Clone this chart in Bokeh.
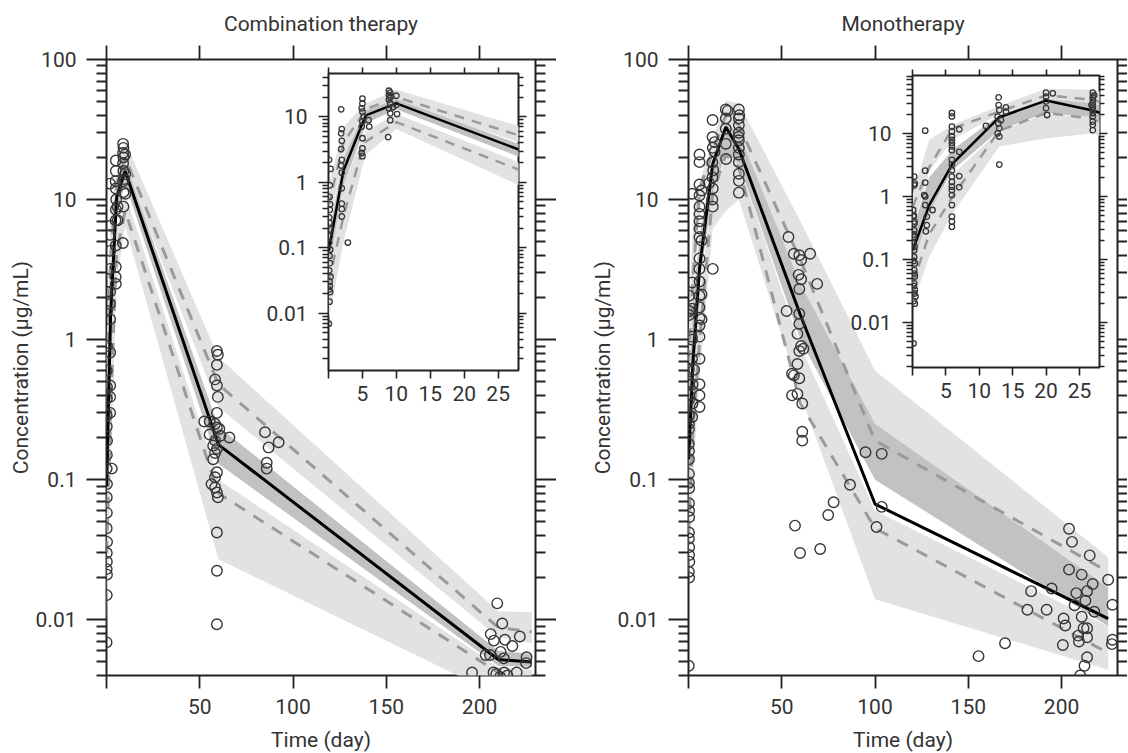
from bokeh.plotting import figure
from bokeh.models import (Range1d, LinearAxis, LogAxis, FixedTicker,
                          CustomJSTickFormatter, GridBox)
from bokeh.embed import file_html
from bokeh.resources import INLINE

# ---------------- texts / ticks ----------------
panel_titles = ["Combination therapy", "Monotherapy"]
x_label = "Time (day)"
y_label = "Concentration (µg/mL)"
main_x_ticks = [0, 50, 100, 150, 200]
inset_x_ticks = [0, 5, 10, 15, 20, 25]
main_y_ticks = [0.01, 0.1, 1, 10, 100]
inset_y_ticks = [0.01, 0.1, 1, 10]

# ---------------- Combination therapy: VPC bins ----------------
comb_day = [0.04, 2.2, 4.9, 5.5, 10, 60, 210, 228]
comb_obs_p50 = [0.09, 1.5, 7.5, 10.5, 16, 0.178, 0.0052, 0.005]
comb_obs_p95 = [0.45, 4.0, 10.5, 13.0, 20, 0.48, 0.0088, 0.0082]
comb_obs_p05 = [0.03, 0.3, 3.0, 4.2, 8.3, 0.08, 0.0042, 0.0036]
comb_p95_lo = [0.2, 2.5, 8, 10, 17, 0.33, 0.0075, 0.0068]
comb_p95_hi = [0.9, 7, 14, 16, 26, 0.75, 0.0115, 0.0113]
comb_p50_lo = [0.05, 0.9, 5, 8, 13, 0.13, 0.0047, 0.0046]
comb_p50_hi = [0.16, 2.4, 9, 12.5, 18.5, 0.24, 0.006, 0.0057]
comb_p05_lo = [0.008, 0.12, 1.6, 2.6, 6.5, 0.027, 0.0029, 0.0026]
comb_p05_hi = [0.06, 0.9, 4.5, 6, 11, 0.1, 0.0046, 0.0044]

comb_obs_day = [
    0.10, 0.30, 0.20, 0.15, 0.25, 0.20, 0.10, 0.15, 0.30, 0.20, 0.10, 0.25, 0.15, 0.20, 0.10, 0.30, 0.15, 0.20, 0.10, 0.25, 0.15, 0.05,
    1.87, 1.96, 1.87, 1.96, 1.87, 1.96, 1.87, 1.96, 1.96, 1.96, 1.96, 1.96, 2.85,
    5.0, 5.0, 4.9, 5.0, 5.2, 5.0, 4.9, 5.9, 6.0, 5.0, 5.0, 4.9, 5.0,
    8.9, 9.1, 8.9, 9.1, 8.9, 9.1, 8.9, 9.1, 9.1, 10.0, 10.1, 8.8, 10.0, 9.5,
    59.2, 59.7, 59.2, 58.2, 59.2, 59.7, 59.2, 52.4, 55.3, 58.2, 59.2, 60.5, 55.3, 61.1, 65.9, 58.2, 57.2, 59.2, 58.2, 57.2,
    59.2, 58.2, 56.3, 58.2, 59.2, 59.7, 59.2, 59.2, 59.2,
    85.0, 86.9, 92.3, 85.9, 85.9,
    209.5, 212.2, 206.0, 207.7, 213.6, 221.6, 217.6, 203.3, 205.6, 211.3, 225.2, 225.0, 213.0, 196.0, 207.5, 209.0, 213.2,
    219.9, 215.0, 211.0]
comb_obs_conc = [
    2.2, 1.6, 0.9, 0.6, 0.46, 0.38, 0.29, 0.24, 0.19, 0.15, 0.12, 0.093, 0.075, 0.058, 0.045, 0.036, 0.030, 0.026, 0.023, 0.021, 0.015, 0.0069,
    13, 6.5, 5.6, 4.3, 3.2, 2.2, 1.8, 1.4, 0.81, 0.47, 0.39, 0.30, 0.12,
    19, 16, 13.5, 12, 10, 8.5, 7.1, 8.9, 7.1, 4.7, 3.3, 2.8, 2.5,
    25, 23.4, 21.5, 20, 18.2, 16, 13.5, 11.3, 8.9, 15.2, 11, 4.9, 21, 14,
    0.83, 0.78, 0.66, 0.52, 0.47, 0.39, 0.30, 0.26, 0.26, 0.25, 0.236, 0.23, 0.21, 0.206, 0.20, 0.19, 0.175, 0.166, 0.155, 0.14,
    0.113, 0.104, 0.093, 0.088, 0.081, 0.075, 0.042, 0.0224, 0.0093,
    0.218, 0.17, 0.185, 0.132, 0.12,
    0.0131, 0.0094, 0.0079, 0.0071, 0.0072, 0.0076, 0.0065, 0.0056, 0.0056, 0.0059, 0.0054, 0.0049, 0.0053, 0.0042, 0.0042,
    0.0041, 0.0042, 0.0042, 0.0040, 0.0039]

# ---------------- Monotherapy: VPC bins ----------------
mono_day = [0.04, 2.5, 6, 13, 20, 27, 60, 100, 225]
mono_obs_p50 = [0.14, 0.73, 3.3, 18, 33, 23, 1.5, 0.067, 0.0102]
mono_obs_p95 = [0.69, 2.9, 12, 22, 40, 34, 3.7, 0.19, 0.022]
mono_obs_p05 = [0.042, 0.25, 1.0, 11, 21, 17, 0.35, 0.045, 0.0058]
mono_p95_lo = [0.3, 2.5, 8, 20, 33, 30, 2.5, 0.12, 0.015]
mono_p95_hi = [1.1, 7.9, 13.5, 27, 51, 49, 7, 0.6, 0.028]
mono_p50_lo = [0.08, 0.55, 2.6, 11.2, 21, 18, 1.0, 0.1, 0.009]
mono_p50_hi = [0.3, 2.0, 5.5, 19.5, 35, 30, 2.5, 0.25, 0.017]
mono_p05_lo = [0.02, 0.11, 0.54, 6.2, 8.3, 10, 0.4, 0.014, 0.0044]
mono_p05_hi = [0.08, 0.6, 2.2, 11, 20, 18, 0.9, 0.06, 0.009]

mono_obs_day = [
    0.25, 0.35, 0.25, 0.10, 0.15, 0.25, 0.25, 0.25, 0.15, 0.25, 0.25, 0.35, 0.25, 0.35, 0.25, 0.35, 0.45, 0.35, 0.15,
    0.2, 0.3, 0.2, 0.3, 0.2, 0.3, 0.2, 0.3, 0.2,
    1.9, 1.9, 1.9, 1.75, 1.9, 1.9, 2.15, 2.15, 2.0, 3.0,
    5.9, 5.9, 5.9, 5.9, 5.9, 5.9, 5.9, 5.9, 5.9, 5.9, 5.9, 5.9, 5.9, 5.9, 5.9, 5.9, 5.9, 5.9, 5.9, 5.9, 5.9,
    7.0, 7.0, 7.0, 7.0,
    11, 12.9, 12.9, 13.0, 12.75, 13.25, 12.85, 13.0, 12.75, 13.0, 14.0, 14.0, 13.0,
    20, 21, 20, 20, 20, 20.15,
    27, 27, 27, 27, 27, 27, 27, 27, 27, 27, 27, 27.2, 26.8,
    53.6, 56.5, 59.4, 65.2, 60.4, 59.0, 60.4, 59.4, 69.0, 52.6, 59.4, 59.4, 58.4, 60.4, 59.4, 61.6, 58.4, 55.5, 56.5, 59.4,
    55.5, 58.4, 61.0, 61.0, 61.0, 57.1, 59.8, 70.6,
    74.9, 77.8, 86.6, 94.9, 103.6, 100.8, 103.6,
    155.5, 169.7, 181.7, 183.7, 192, 194.7, 204, 205.6, 204, 210.8, 215.1, 216.7, 207.9, 213.7, 212.8, 207, 217.6, 225,
    227.3, 201.1, 210.8, 211.8, 213.7, 202, 200.7, 208.9, 209.3, 213.7, 227.3, 227, 213.7, 212.3, 210]
mono_obs_conc = [
    2.06, 1.6, 1.5, 0.61, 0.48, 0.37, 0.29, 0.23, 0.18, 0.14, 0.11, 0.087, 0.068, 0.054, 0.042, 0.033, 0.026, 0.020, 0.0047,
    0.5, 0.4, 0.25, 0.16, 0.095, 0.06, 0.038, 0.029, 0.022,
    11, 2.56, 1.66, 1.05, 1.0, 0.73, 0.48, 0.35, 0.28, 0.61,
    21, 18.5, 12.8, 10.7, 8.9, 7.9, 7.0, 6.2, 5.4, 3.8, 3.2, 2.6, 2.06, 1.7, 1.43, 1.26, 1.05, 0.73, 0.48, 0.4, 0.33,
    11.6, 5.1, 2.1, 1.4,
    13.1, 37, 28, 23.4, 18.4, 16.2, 14.4, 12, 10, 8.9, 25.7, 22, 3.2,
    44, 43, 38, 32, 25, 19.5,
    44, 38, 34, 30, 26.5, 23.4, 21, 18.5, 15.3, 13.6, 11.2, 40, 28,
    5.4, 4.1, 4.0, 4.1, 3.7, 2.9, 2.7, 2.3, 2.5, 1.6, 1.53, 1.3, 1.1, 0.9, 0.83, 0.86, 0.67, 0.57, 0.556, 0.53,
    0.40, 0.41, 0.35, 0.22, 0.19, 0.047, 0.030, 0.032,
    0.056, 0.069, 0.092, 0.157, 0.153, 0.046, 0.064,
    0.0055, 0.0068, 0.0118, 0.016, 0.0118, 0.0167, 0.0447, 0.036, 0.0228, 0.021, 0.0288, 0.018, 0.0155, 0.016, 0.0137,
    0.0127, 0.0114, 0.0193, 0.0128, 0.0102, 0.0105, 0.0087, 0.0087, 0.0091, 0.0066, 0.0077, 0.0070, 0.0075, 0.0072,
    0.0067, 0.0054, 0.0047, 0.0040]

# ---------------- styling / geometry ----------------
FONT = "Roboto"
FS = "21px"
TXT = "#333333"
AX = "#222222"
LIGHT = "#e2e2e2"
DARK = "#c2c2c2"
DASH = "#9a9a9a"
PT = "#363636"

X_MAX = 230
Y_MIN, Y_MAX = 0.004, 100
FRAME_W, FRAME_H = 429, 616
TOP, BOTTOM = 59, 78


def log_minor(lo, hi):
    out = []
    for e in range(-4, 3):
        for m in range(2, 10):
            v = m * 10.0 ** e
            if lo <= v <= hi:
                out.append(v)
    return out


def style_axis(ax, tick_out, minor_out, show_labels, standoff, lw):
    ax.axis_line_color = None
    ax.major_tick_in = 0
    ax.minor_tick_in = 0
    ax.major_tick_out = tick_out
    ax.minor_tick_out = minor_out
    ax.major_tick_line_color = AX
    ax.minor_tick_line_color = AX
    ax.major_tick_line_width = lw
    ax.minor_tick_line_width = lw
    ax.major_label_text_font = FONT
    ax.major_label_text_color = TXT
    ax.major_label_standoff = standoff
    if show_labels:
        ax.major_label_text_font_size = FS
    else:
        ax.major_label_text_font_size = "0px"
        ax.formatter = CustomJSTickFormatter(code="return '';")
    ax.axis_label_text_font = FONT
    ax.axis_label_text_font_size = FS
    ax.axis_label_text_font_style = "normal"
    ax.axis_label_text_color = TXT


def add_frame_axes(p, xt, yt, ymin, ymax, sizes, title=None, xlab=None, ylab=None):
    (l_out, l_min, r_out, r_min, b_out, t_out, lw, y_so, x_so) = sizes
    x_fmt = "return tick == 0 ? '' : String(tick);"
    bot = LinearAxis(ticker=FixedTicker(ticks=xt), formatter=CustomJSTickFormatter(code=x_fmt))
    style_axis(bot, b_out, 0, True, x_so, lw)
    top = LinearAxis(ticker=FixedTicker(ticks=xt))
    style_axis(top, t_out, 0, False, 0, lw)
    left = LogAxis(ticker=FixedTicker(ticks=yt, minor_ticks=log_minor(ymin, ymax)),
                   formatter=CustomJSTickFormatter(code="return String(tick);"))
    style_axis(left, l_out, l_min, True, y_so, lw)
    right = LogAxis(ticker=FixedTicker(ticks=yt, minor_ticks=log_minor(ymin, ymax)))
    style_axis(right, r_out, r_min, False, 0, lw)
    if title:
        top.axis_label = title
        top.axis_label_standoff = 10
    if xlab:
        bot.axis_label = xlab
        bot.axis_label_standoff = 11
    if ylab:
        left.axis_label = ylab
        left.axis_label_standoff = 0
    p.add_layout(bot, "below")
    p.add_layout(top, "above")
    p.add_layout(left, "left")
    p.add_layout(right, "right")


def draw_vpc(p, d, lw_line, dash, pt_size, pt_lw):
    p.varea(x=d["day"], y1=d["p95_lo"], y2=d["p95_hi"], fill_color=LIGHT)
    p.varea(x=d["day"], y1=d["p05_lo"], y2=d["p05_hi"], fill_color=LIGHT)
    p.varea(x=d["day"], y1=d["p50_lo"], y2=d["p50_hi"], fill_color=DARK)
    p.line(d["day"], d["obs95"], line_color=DASH, line_width=lw_line, line_dash=dash)
    p.line(d["day"], d["obs05"], line_color=DASH, line_width=lw_line, line_dash=dash)
    p.line(d["day"], d["obs50"], line_color="black", line_width=lw_line)
    p.scatter(d["pt_day"], d["pt_conc"], marker="circle", size=pt_size,
              fill_color=None, line_color=PT, line_width=pt_lw)


def main_panel(title, d, min_left, right_tick):
    p = figure(frame_width=FRAME_W, frame_height=FRAME_H,
               x_range=Range1d(0, X_MAX), y_range=Range1d(Y_MIN, Y_MAX),
               y_axis_type="log", x_axis_location=None, y_axis_location=None,
               min_border_left=min_left, min_border_right=right_tick,
               min_border_top=TOP, min_border_bottom=BOTTOM,
               output_backend="svg", toolbar_location=None, title=None)
    p.grid.visible = False
    p.outline_line_color = AX
    p.outline_line_width = 2
    p.border_fill_color = "white"
    add_frame_axes(p, main_x_ticks, main_y_ticks, Y_MIN, Y_MAX,
                   (20, 10, right_tick, min(10, right_tick), 13, 14, 1.8, 10, 10),
                   title=title, xlab=x_label, ylab=y_label)
    draw_vpc(p, d, 3, "12 10", 10.5, 1.4)
    return p


def inset_panel(d, fw, fh, ymin, ymax, min_left, min_right, margin):
    # borders equal to the main panel sharing its grid cell (the grid aligns them)
    p = figure(frame_width=fw, frame_height=fh,
               x_range=Range1d(0, 28), y_range=Range1d(ymin, ymax),
               y_axis_type="log", x_axis_location=None, y_axis_location=None,
               min_border_left=min_left, min_border_right=min_right,
               min_border_top=TOP, min_border_bottom=BOTTOM,
               output_backend="svg", toolbar_location=None, title=None)
    p.grid.visible = False
    p.outline_line_color = AX
    p.outline_line_width = 2
    p.border_fill_color = None
    p.background_fill_color = "white"
    p.margin = margin
    add_frame_axes(p, inset_x_ticks, inset_y_ticks, ymin, ymax,
                   (10, 6, 8, 5, 8, 6, 1.6, 11, 7))
    draw_vpc(p, d, 2.5, "10 8", 5.5, 1.3)
    return p


comb = dict(day=comb_day, obs50=comb_obs_p50, obs95=comb_obs_p95, obs05=comb_obs_p05,
            p95_lo=comb_p95_lo, p95_hi=comb_p95_hi, p50_lo=comb_p50_lo, p50_hi=comb_p50_hi,
            p05_lo=comb_p05_lo, p05_hi=comb_p05_hi, pt_day=comb_obs_day, pt_conc=comb_obs_conc)
mono = dict(day=mono_day, obs50=mono_obs_p50, obs95=mono_obs_p95, obs05=mono_obs_p05,
            p95_lo=mono_p95_lo, p95_hi=mono_p95_hi, p50_lo=mono_p50_lo, p50_hi=mono_p50_hi,
            p05_lo=mono_p05_lo, p05_hi=mono_p05_hi, pt_day=mono_obs_day, pt_conc=mono_obs_conc)

left_main = main_panel(panel_titles[0], comb, 106, 21)
right_main = main_panel(panel_titles[1], mono, 132, 10)
left_inset = inset_panel(comb, 190, 297, 0.00133, 45.9, 106, 21, (14, 0, 0, 222))
right_inset = inset_panel(mono, 187, 292, 0.00195, 82.4, 132, 10, (16, 0, 0, 224))

layout = GridBox(children=[(left_main, 0, 0), (left_inset, 0, 0),
                           (right_main, 0, 1), (right_inset, 0, 1)])

open("out.html", "w").write(file_html(layout, INLINE))
